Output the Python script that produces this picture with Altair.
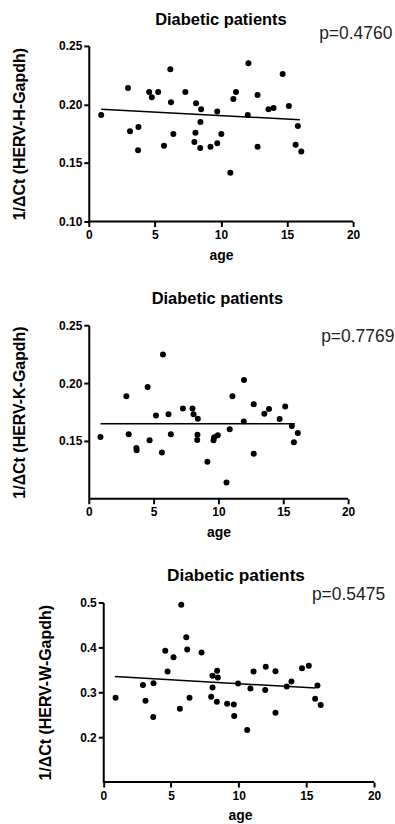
import altair as alt
import pandas as pd

FONT = "Liberation Sans"

# ---------------- data ----------------
age_h = [0.94, 2.97, 3.12, 3.76, 3.73, 4.57, 4.77, 5.25, 5.69, 6.17, 6.22, 6.40, 7.31, 7.99, 8.07,
         8.12, 8.50, 8.45, 8.43, 9.21, 9.72, 9.72, 10.03, 10.71, 10.94, 11.14, 12.08, 12.03, 12.77,
         12.77, 13.6, 13.98, 14.67, 15.14, 15.82, 15.65, 16.08]
val_h = [0.191, 0.214, 0.177, 0.1807, 0.1608, 0.2107, 0.2061, 0.2107, 0.1648, 0.230, 0.2018, 0.1748,
         0.2107, 0.1679, 0.1759, 0.201, 0.1958, 0.185, 0.1628, 0.1639, 0.1668, 0.1939, 0.1748, 0.1417,
         0.2047, 0.2107, 0.2352, 0.191, 0.2081, 0.1639, 0.1958, 0.197, 0.226, 0.1987, 0.1816, 0.1656,
         0.1597]
fit_age_h = [0.94, 15.97]
fit_val_h = [0.1958, 0.187]

age_k = [0.90, 2.90, 3.08, 3.67, 3.69, 4.54, 4.69, 5.18, 5.64, 5.72, 6.15, 6.33, 7.26, 8.0, 8.08,
         8.41, 8.38, 8.36, 9.15, 9.62, 9.67, 9.95, 10.62, 10.87, 11.08, 11.95, 11.97, 12.72, 12.72,
         13.54, 13.9, 14.72, 15.15, 15.66, 16.12, 15.82]
val_k = [0.1534, 0.1886, 0.1557, 0.144, 0.142, 0.1966, 0.1506, 0.172, 0.14, 0.2246, 0.1731, 0.1557,
         0.178, 0.178, 0.1731, 0.1691, 0.1554, 0.1509, 0.132, 0.1506, 0.1531, 0.1549, 0.114, 0.16,
         0.1886, 0.1669, 0.2026, 0.1817, 0.1389, 0.1734, 0.1777, 0.1689, 0.1797, 0.1629, 0.1569,
         0.1489]
fit_age_k = [0.9, 15.9]
fit_val_k = [0.1649, 0.1649]

age_w = [0.91, 2.93, 3.12, 3.71, 3.69, 4.58, 4.75, 5.19, 5.66, 5.76, 6.13, 6.2, 6.37, 7.26, 7.97,
         8.07, 8.07, 8.41, 8.46, 8.39, 9.15, 9.64, 9.67, 9.96, 10.63, 10.87, 11.1, 11.96, 12.0,
         12.72, 12.72, 14.68, 15.18, 13.9, 13.55, 15.82, 15.65, 16.06]
val_w = [0.2878, 0.316, 0.281, 0.3204, 0.2447, 0.3924, 0.3464, 0.3783, 0.2633, 0.4948, 0.4228,
         0.3954, 0.2878, 0.3887, 0.29, 0.3368, 0.3108, 0.3479, 0.333, 0.2789, 0.2744, 0.2729, 0.247,
         0.3197, 0.2158, 0.3086, 0.3464, 0.3049, 0.3568, 0.3471, 0.2544, 0.3538, 0.359, 0.3242, 0.313,
         0.3153, 0.2856, 0.2715]
fit_age_w = [0.86, 15.69]
fit_val_w = [0.3353, 0.3093]

titles = ["Diabetic patients", "Diabetic patients", "Diabetic patients"]
y_titles = ["1/\u0394Ct (HERV-H-Gapdh)", "1/\u0394Ct (HERV-K-Gapdh)", "1/\u0394Ct (HERV-W-Gapdh)"]
p_labels = ["p=0.4760", "p=0.7769", "p=0.5475"]
x_ticks = [0, 5, 10, 15, 20]
y_ticks_h = [0.10, 0.15, 0.20, 0.25]
y_ticks_k = [0.15, 0.20, 0.25]
y_ticks_w = [0.2, 0.3, 0.4, 0.5]


def panel(ages, vals, fit_a, fit_v, title, ytitle, ptext, ydomain, yticks, yfmt,
          xdomain, width, height, p_pos, t_pos, y_offset=0, x_title_x=None, y_title_pad=31,
          title_size=16.5):
    pts = pd.DataFrame({"age": ages, "val": vals})
    fit = pd.DataFrame({"age": fit_a, "val": fit_v})
    one = pd.DataFrame({"ptext": [ptext], "title": [title]})

    xaxis_kw = dict(values=x_ticks, domain=False, grid=False, tickSize=5, tickWidth=2,
                    tickColor="black", labelFont=FONT, labelFontSize=12, labelFontWeight="bold",
                    labelColor="black", labelPadding=3, labelFlush=False, title="age",
                    titleFont=FONT, titleFontSize=14, titleFontWeight="bold", titleColor="black",
                    titlePadding=8)
    if x_title_x is not None:
        xaxis_kw["titleX"] = x_title_x
    x = alt.X("age:Q", scale=alt.Scale(domain=xdomain, nice=False, zero=False),
              axis=alt.Axis(**xaxis_kw))
    y = alt.Y("val:Q", scale=alt.Scale(domain=ydomain, nice=False, zero=False),
              axis=alt.Axis(values=yticks, format=yfmt, grid=False, domainColor="black",
                            domainWidth=2, tickSize=5, tickWidth=2, tickColor="black",
                            labelFont=FONT, labelFontSize=12, labelFontWeight="bold",
                            labelColor="black", labelPadding=2, title=ytitle, titleFont=FONT,
                            titleFontSize=16, titleFontWeight="bold", titleColor="black",
                            titlePadding=y_title_pad, offset=y_offset))

    points = alt.Chart(pts).mark_circle(size=36, color="black", opacity=1).encode(x=x, y=y)
    line = alt.Chart(fit).mark_line(color="black", strokeWidth=1.5).encode(x="age:Q", y="val:Q")
    base = alt.Chart(one).mark_rule(color="black", strokeWidth=2).encode(
        x=alt.datum(0), x2=alt.datum(20), y=alt.datum(ydomain[0]))
    ptxt = alt.Chart(one).mark_text(align="left", baseline="middle", font=FONT, fontSize=17.5,
                                     color="#222222").encode(
        x=alt.datum(p_pos[0]), y=alt.datum(p_pos[1]), text="ptext:N")
    ttxt = alt.Chart(one).mark_text(align="center", baseline="alphabetic", font=FONT,
                                     fontSize=title_size, fontWeight="bold", color="black").encode(
        x=alt.datum(t_pos[0]), y=alt.datum(t_pos[1]), text="title:N")

    return alt.layer(points, line, base, ptxt, ttxt).properties(width=width, height=height)


p1 = panel(age_h, val_h, fit_age_h, fit_val_h, titles[0], y_titles[0], p_labels[0],
           [0.10, 0.25], y_ticks_h, ".2f", [0, 20], 265, 176, (17.43, 0.2602), (10.0, 0.268))
p2 = panel(age_k, val_k, fit_age_k, fit_val_k, titles[1], y_titles[1], p_labels[1],
           [0.10, 0.25], y_ticks_k, ".2f", [0, 20], 260, 174, (17.92, 0.2397), (9.92, 0.2682))
p3 = panel(age_w, val_w, fit_age_w, fit_val_w, titles[2], y_titles[2], p_labels[2],
           [0.1, 0.5], y_ticks_w, ".1f", [-1.07, 20], 286, 180, (15.41, 0.5162), (9.8, 0.547),
           y_offset=-14.5, x_title_x=151.7, y_title_pad=26, title_size=17.3)

chart = alt.vconcat(p1, p2, p3, spacing=104, bounds="flush").configure_view(
    stroke=None).properties(padding={"left": 11, "top": 10, "right": 0, "bottom": 0})

chart.save("out.html", embed_options={"renderer": "svg", "actions": False})
